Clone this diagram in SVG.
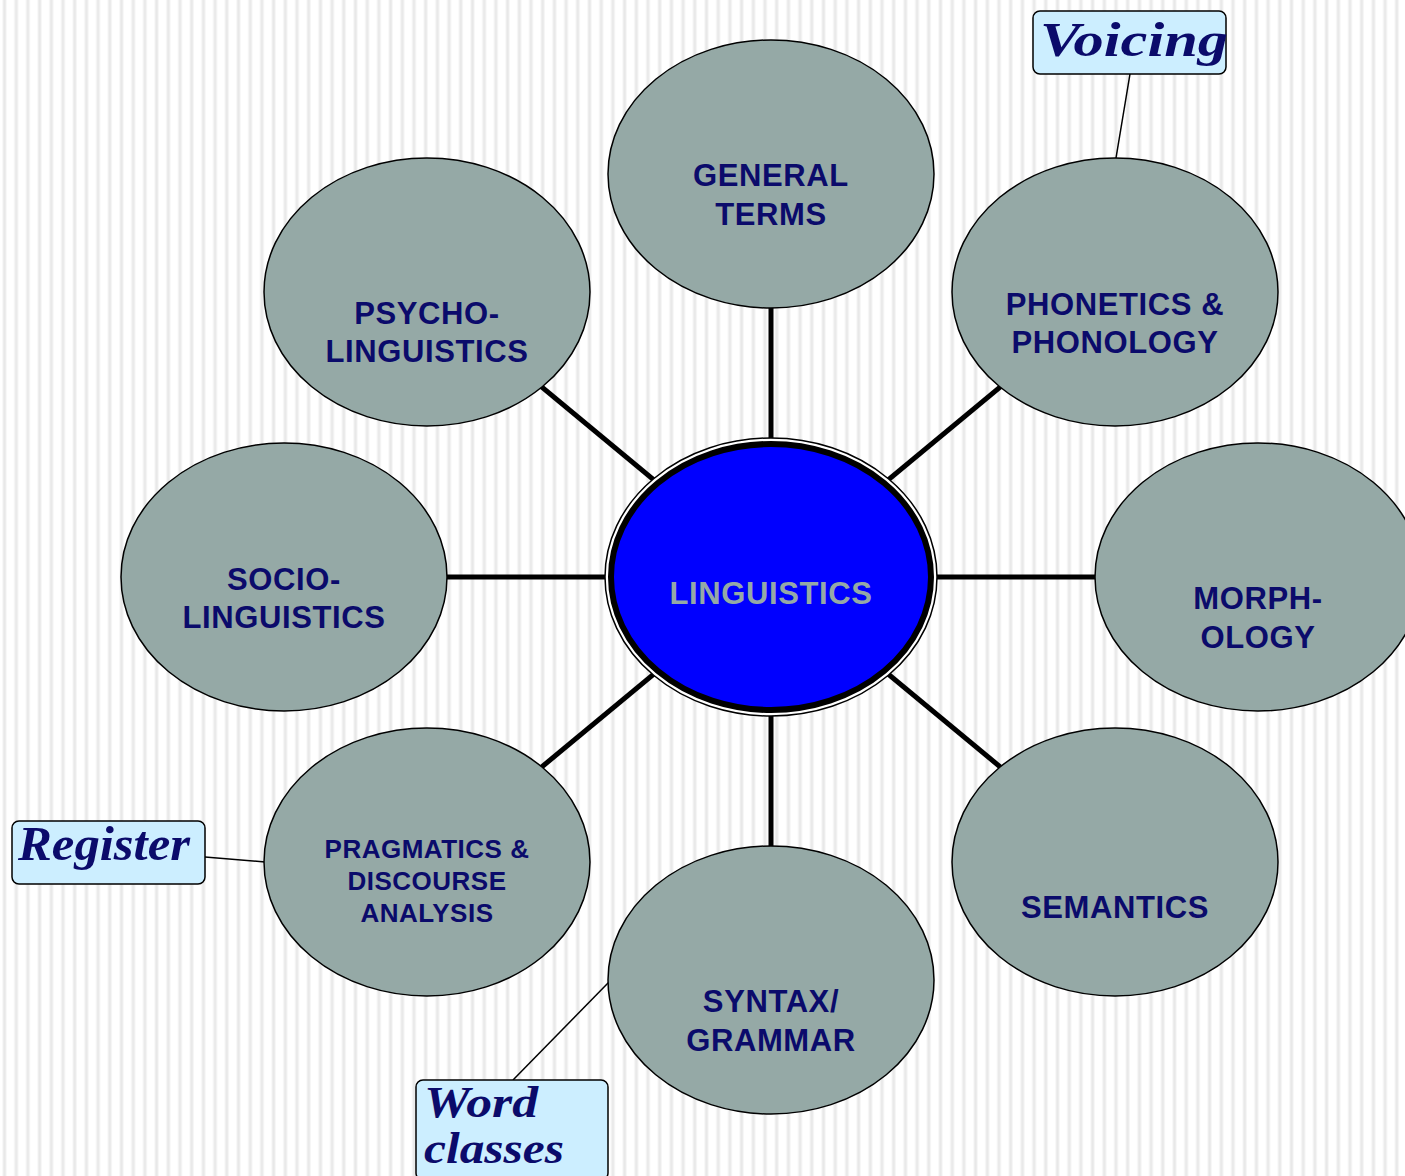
<svg xmlns="http://www.w3.org/2000/svg" width="1405" height="1176" viewBox="0 0 1405 1176">
  <defs>
    <pattern id="stripes" x="0" y="0" width="11.7" height="20" patternUnits="userSpaceOnUse">
      <rect x="0" y="0" width="11.7" height="20" fill="#ffffff"/>
      <rect x="2.5" y="0" width="4" height="20" fill="#f3f3f3"/>
      <rect x="3.5" y="0" width="2" height="20" fill="#e8e8e8"/>
    </pattern>
    <style>
      .sat { fill: #95a9a6; stroke: #000; stroke-width: 1.5; }
      .lbl { font-family: "Liberation Sans", Arial, sans-serif; font-weight: bold; font-size: 31px; letter-spacing: 0.6px; fill: #0b0b6b; text-anchor: middle; }
      .small { font-size: 26px; letter-spacing: 0.5px; }
      .conn { stroke: #000; stroke-width: 5; }
      .lead { stroke: #000; stroke-width: 1.5; }
      .note { fill: #cceeff; stroke: #000; stroke-width: 1.5; }
      .hand { font-family: "Liberation Serif", "DejaVu Serif", serif; font-style: italic; font-weight: bold; font-size: 48px; fill: #0b0b6b; }
      .hand2 { font-size: 44px; }
    </style>
  </defs>

  <rect x="0" y="0" width="1405" height="1176" fill="url(#stripes)"/>

  <!-- spokes from the hub to each topic, plus the thin note leaders -->
  <g id="connectors">
    <line class="conn" x1="771" y1="577" x2="771" y2="174"/>
    <line class="conn" x1="771" y1="577" x2="427" y2="292"/>
    <line class="conn" x1="771" y1="577" x2="1115" y2="292"/>
    <line class="conn" x1="771" y1="577" x2="284" y2="577"/>
    <line class="conn" x1="771" y1="577" x2="1258" y2="577"/>
    <line class="conn" x1="771" y1="577" x2="427" y2="862"/>
    <line class="conn" x1="771" y1="577" x2="1115" y2="862"/>
    <line class="conn" x1="771" y1="577" x2="771" y2="980"/>
    <line class="lead" x1="1130" y1="74" x2="1116" y2="158"/>
    <line class="lead" x1="205" y1="857" x2="265" y2="862"/>
    <line class="lead" x1="513" y1="1080" x2="609" y2="982"/>
  </g>

  <g id="hub">
    <ellipse cx="771" cy="577" rx="166" ry="139" fill="#ffffff" stroke="#000" stroke-width="1.5"/>
    <ellipse cx="771" cy="577" rx="160" ry="133" fill="#0000ff" stroke="#000" stroke-width="6"/>
    <text class="lbl" x="771" y="604" style="fill:#95a9a6">LINGUISTICS</text>
  </g>

  <g id="general-terms">
    <ellipse class="sat" cx="771" cy="174" rx="163" ry="134"/>
    <text class="lbl" x="771" y="186">GENERAL</text>
    <text class="lbl" x="771" y="225">TERMS</text>
  </g>

  <g id="psycholinguistics">
    <ellipse class="sat" cx="427" cy="292" rx="163" ry="134"/>
    <text class="lbl" x="427" y="324">PSYCHO-</text>
    <text class="lbl" x="427" y="362">LINGUISTICS</text>
  </g>

  <g id="phonetics">
    <ellipse class="sat" cx="1115" cy="292" rx="163" ry="134"/>
    <text class="lbl" x="1115" y="315">PHONETICS &amp;</text>
    <text class="lbl" x="1115" y="353">PHONOLOGY</text>
  </g>

  <g id="sociolinguistics">
    <ellipse class="sat" cx="284" cy="577" rx="163" ry="134"/>
    <text class="lbl" x="284" y="590">SOCIO-</text>
    <text class="lbl" x="284" y="628">LINGUISTICS</text>
  </g>

  <g id="morphology">
    <ellipse class="sat" cx="1258" cy="577" rx="163" ry="134"/>
    <text class="lbl" x="1258" y="609">MORPH-</text>
    <text class="lbl" x="1258" y="648">OLOGY</text>
  </g>

  <g id="pragmatics">
    <ellipse class="sat" cx="427" cy="862" rx="163" ry="134"/>
    <text class="lbl small" x="427" y="858">PRAGMATICS &amp;</text>
    <text class="lbl small" x="427" y="890">DISCOURSE</text>
    <text class="lbl small" x="427" y="922">ANALYSIS</text>
  </g>

  <g id="semantics">
    <ellipse class="sat" cx="1115" cy="862" rx="163" ry="134"/>
    <text class="lbl" x="1115" y="918">SEMANTICS</text>
  </g>

  <g id="syntax">
    <ellipse class="sat" cx="771" cy="980" rx="163" ry="134"/>
    <text class="lbl" x="771" y="1012">SYNTAX/</text>
    <text class="lbl" x="771" y="1051">GRAMMAR</text>
  </g>

  <g id="note-voicing">
    <rect class="note" x="1033" y="11" width="193" height="63" rx="7"/>
    <text class="hand" x="1040" y="56" textLength="188" lengthAdjust="spacingAndGlyphs">Voicing</text>
  </g>

  <g id="note-register">
    <rect class="note" x="12" y="821" width="193" height="63" rx="7"/>
    <text class="hand" x="18" y="860" textLength="172" lengthAdjust="spacingAndGlyphs">Register</text>
  </g>

  <g id="note-word-classes">
    <rect class="note" x="416" y="1080" width="192" height="100" rx="7"/>
    <text class="hand hand2" x="424" y="1117" textLength="114" lengthAdjust="spacingAndGlyphs">Word</text>
    <text class="hand hand2" x="424" y="1163" textLength="140" lengthAdjust="spacingAndGlyphs">classes</text>
  </g>
</svg>
